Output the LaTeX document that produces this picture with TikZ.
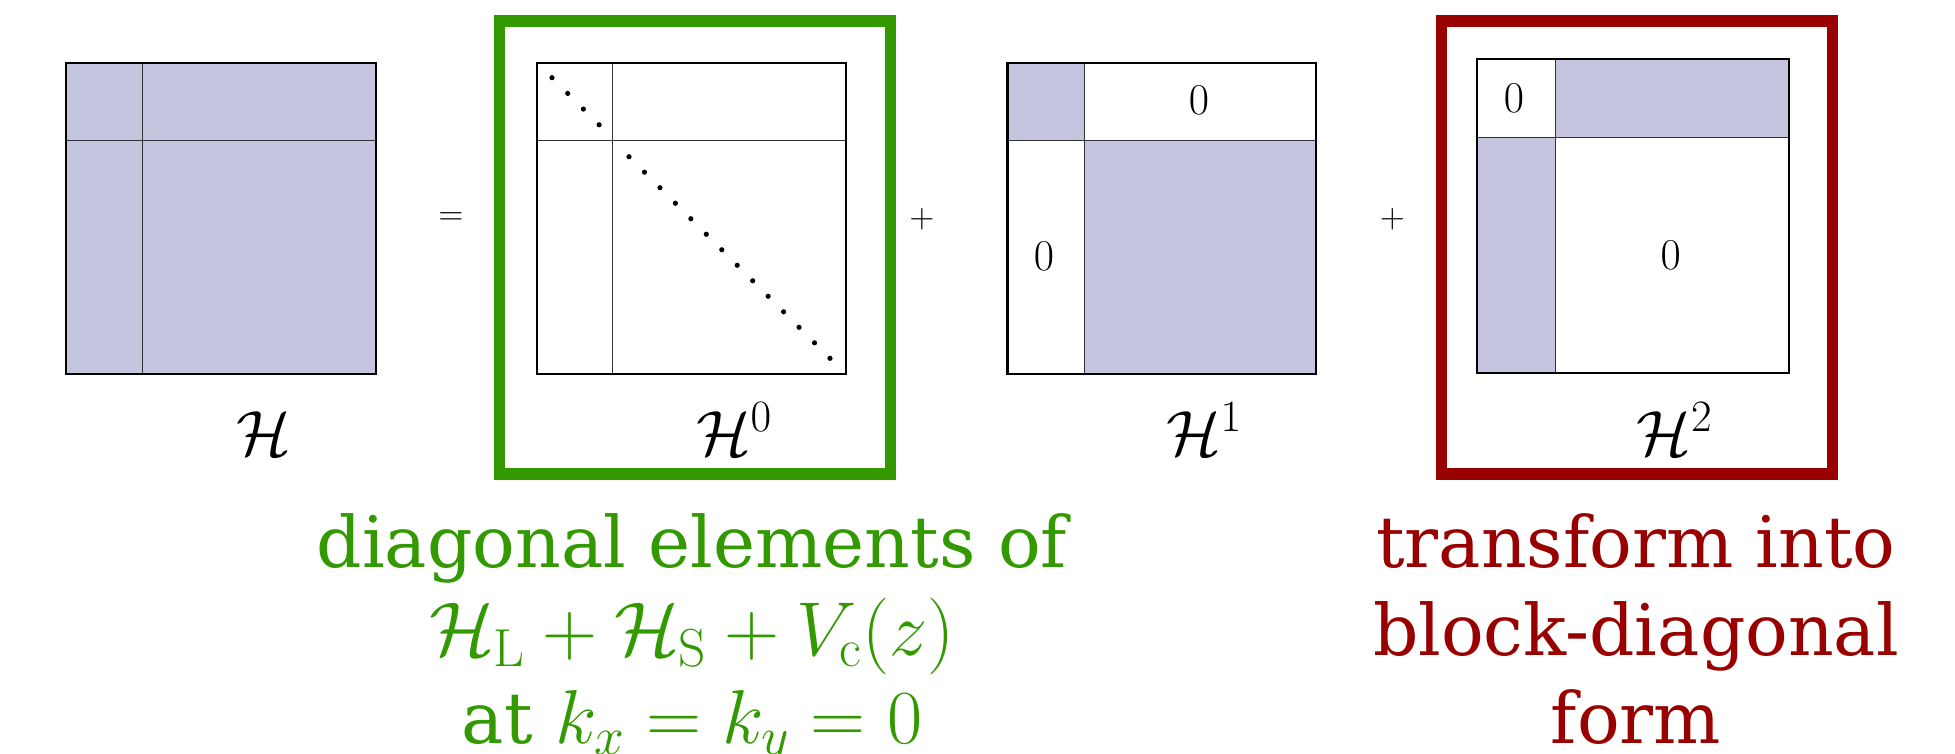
\RequirePackage{fix-cm}
\documentclass[tikz,border=0pt]{standalone}
\usepackage[no-math]{fontspec}
\setmainfont{DejaVu Serif}
\definecolor{mfill}{RGB}{197,197,224}
\definecolor{gcol}{RGB}{51,153,0}
\definecolor{rcol}{RGB}{153,0,0}
\newcommand{\bigmath}{\fontsize{38.2}{44}\selectfont}
\tikzset{
  mborder/.style={draw=black,line width=1.1pt},
  mline/.style={draw=black!75!mfill,line width=0.5pt},
  gframe/.style={draw=gcol,line width=5.6pt},
  rframe/.style={draw=rcol,line width=5.6pt},
  oplabel/.style={inner sep=0pt,font=\fontsize{16.5}{19}\selectfont},
  zerolabel/.style={inner sep=0pt,font=\fontsize{22}{26}\selectfont},
  mlabel/.style={inner sep=0pt,anchor=base west,font=\fontsize{32}{38}\selectfont},
  gtext/.style={inner sep=0pt,anchor=base,text=gcol,font=\fontsize{35.5}{44}\selectfont},
  rtext/.style={inner sep=0pt,anchor=base,text=rcol,font=\fontsize{35.5}{44}\selectfont},
  dotmark/.style={fill=black},
}
\begin{document}
\begin{tikzpicture}[x=0.5pt,y=-0.5pt]
\useasboundingbox (0,0) rectangle (1955,754);
% H
\fill[mfill] (65.6,62.7) rectangle (376,374);
\draw[mline] (142.5,62.7) -- (142.5,374) (65.6,140.7) -- (376,140.7);
\draw[mborder] (65.6,62.7) rectangle (376,374);
\node[mlabel] (lH) at (236,455) {$\mathcal{H}$};
\node[oplabel] (eq) at (451,219) {$=$};
% H0
\draw[gframe] (499.5,21) rectangle (890.5,474);
\draw[mline] (612.5,62.7) -- (612.5,374) (537,140.7) -- (845.6,140.7);
\draw[mborder] (537,62.7) rectangle (845.6,374);
\foreach \i in {0,...,3} \fill[dotmark] (552+15.7*\i,77.7+15.7*\i) circle (2.6);
\foreach \i in {0,...,13} \fill[dotmark] (629+15.46*\i,156.7+15.51*\i) circle (2.6);
\node[mlabel] (lH0) at (695.6,455) {$\mathcal{H}^0$};
\node[oplabel] (p1) at (922,219) {$+$};
% H1
\fill[mfill] (1007.5,62.7) rectangle (1084,140.7);
\fill[mfill] (1084,140.7) rectangle (1316,374);
\draw[mline] (1084,62.7) -- (1084,374) (1007.5,140.7) -- (1316,140.7);
\draw[mborder] (1007.5,62.7) rectangle (1316,374);
\node[zerolabel] (z1) at (1199,100) {$0$};
\node[zerolabel] (z2) at (1044,256) {$0$};
\node[mlabel] (lH1) at (1165.6,455) {$\mathcal{H}^1$};
\node[oplabel] (p2) at (1392.5,219) {$+$};
% H2
\draw[rframe] (1441.1,21) rectangle (1832.5,474);
\fill[mfill] (1555,59.3) rectangle (1789,137.7);
\fill[mfill] (1477,137.7) rectangle (1555,372.7);
\draw[mline] (1555,59.3) -- (1555,372.7) (1477,137.7) -- (1789,137.7);
\draw[mborder] (1477,59.3) rectangle (1789,372.7);
\node[zerolabel] (z3) at (1514,98) {$0$};
\node[zerolabel] (z4) at (1670.6,255) {$0$};
\node[mlabel] (lH2) at (1636,455) {$\mathcal{H}^2$};
% texts
\node[gtext] (g1) at (692,567) {diagonal elements of};
\node[gtext] (g2) at (692,655) {\bigmath$\mathcal{H}_{\mathrm{L}}+\mathcal{H}_{\mathrm{S}}+V_{\mathrm{c}}(z)$};
\node[gtext] (g3) at (692,743) {at {\bigmath$k_x=k_y=0$}};
\node[rtext] (r1) at (1636,567) {transform into};
\node[rtext] (r2) at (1636,655) {block-diagonal};
\node[rtext] (r3) at (1636,743) {form};
\end{tikzpicture}
\end{document}
